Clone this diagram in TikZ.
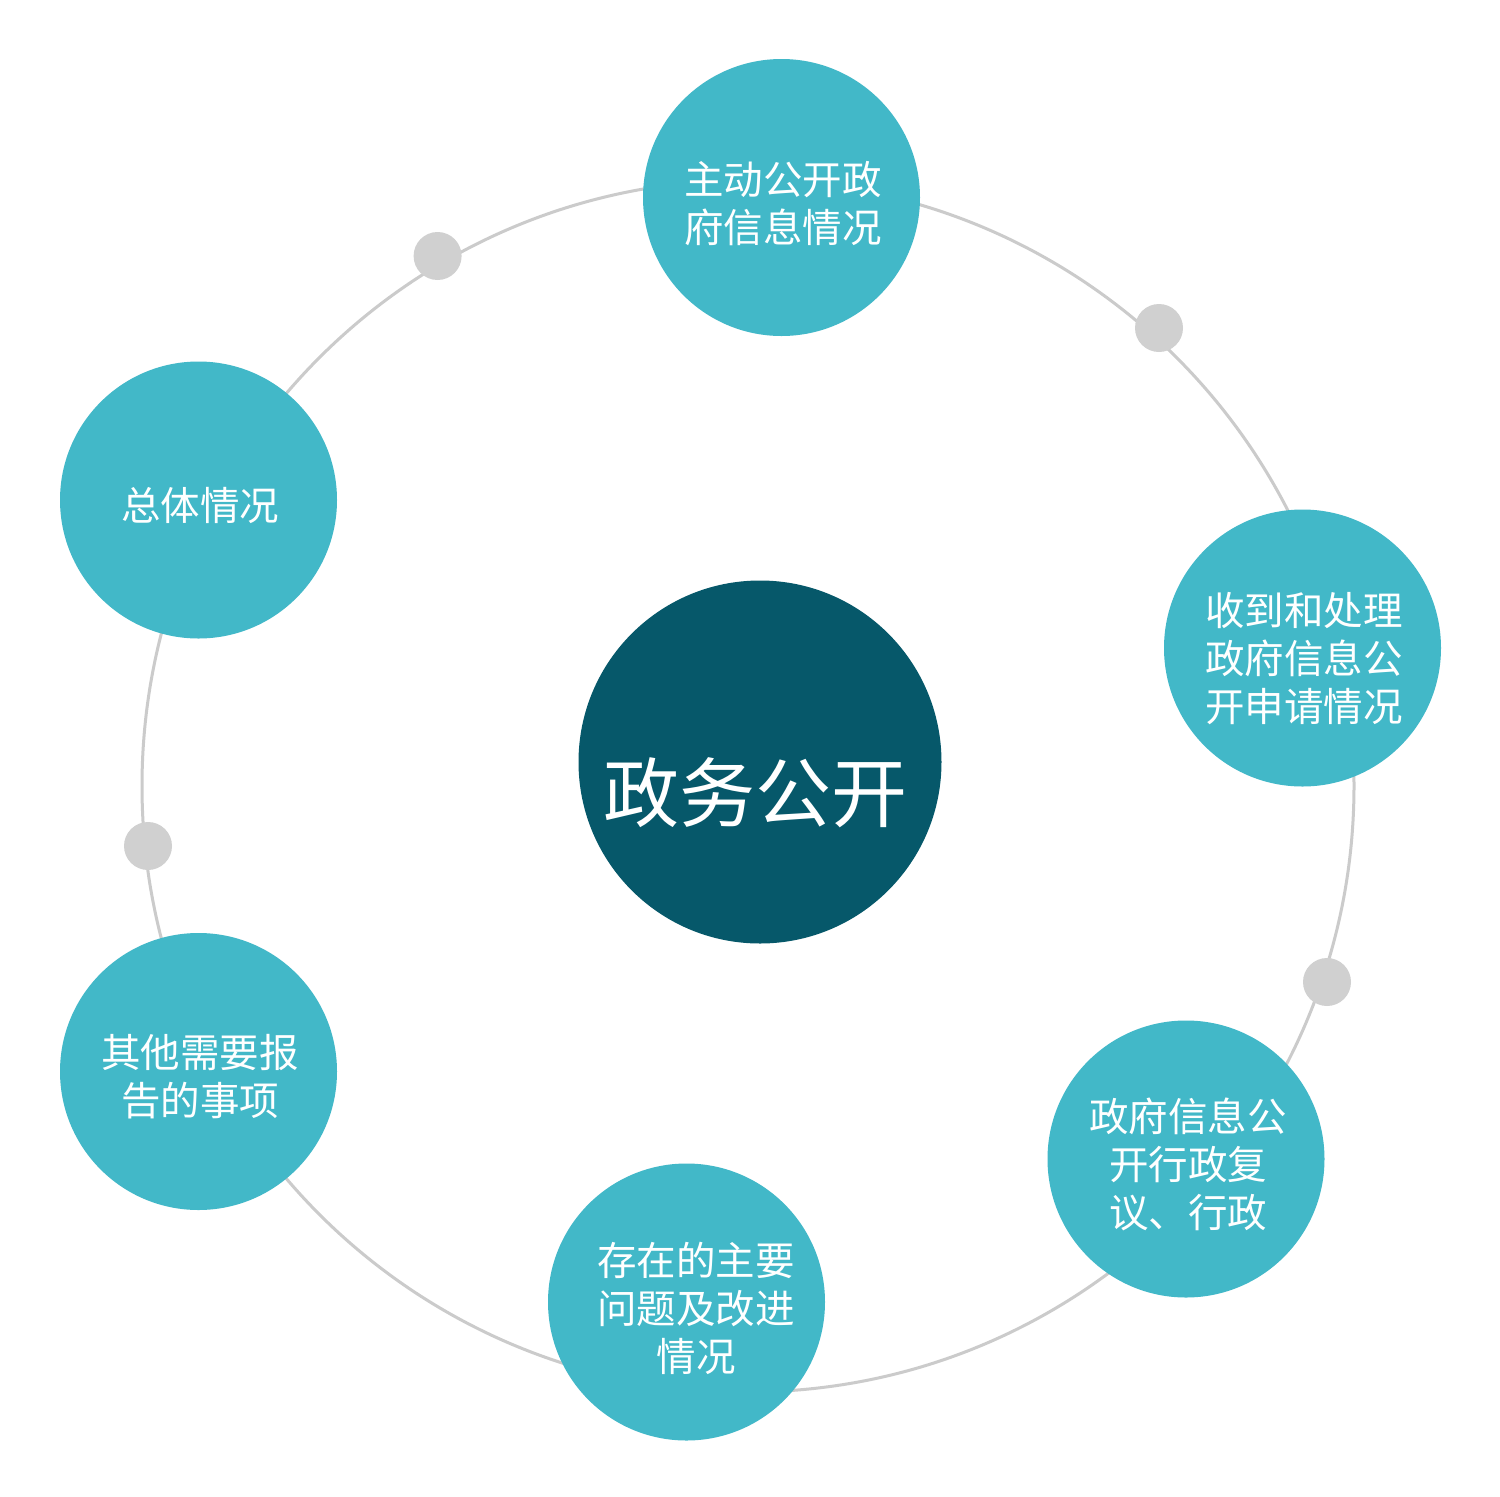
\documentclass[tikz,border=0pt]{standalone}
\usepackage{fontspec}
\newfontfamily\cjk{Noto Sans CJK SC}
\definecolor{teal1}{HTML}{42B8C8}
\definecolor{deep}{HTML}{06586A}
\definecolor{ringgray}{HTML}{CBCBCB}
\definecolor{dotgray}{HTML}{D0D0D0}
\tikzset{
  item/.style={circle, fill=teal1, draw=none, minimum size=277pt, inner sep=0pt},
  hub/.style={circle, fill=deep, draw=none, minimum size=363pt, inner sep=0pt},
  itemtext/.style={text=white, font=\cjk\fontsize{39.5pt}{48pt}\selectfont, align=center, inner sep=0pt},
  hubtext/.style={text=white, font=\cjk\fontsize{76pt}{90pt}\selectfont, inner sep=0pt},
  joint/.style={circle, fill=dotgray, draw=none, minimum size=48pt, inner sep=0pt},
  ringline/.style={draw=ringgray, line width=3pt}
}
\begin{document}
\begin{tikzpicture}[x=1pt, y=-1pt]
\useasboundingbox (0,0) rectangle (1500,1497);
\fill[white] (0,0) rectangle (1500,1497);
% ring
\coordinate (rc) at (748,786);
\draw[ringline] (rc) circle[radius=606pt];
% joints
\node[joint] (j1) at (437.6,256) {};
\node[joint] (j2) at (1159,328) {};
\node[joint] (j3) at (148,846) {};
\node[joint] (j4) at (1327,982) {};
% hub
\node[hub] (hub) at (760,762) {};
\node[hubtext] (hubt) at (755,793) {政务公开};
% items
\node[item] (c1) at (781.5,197.5) {};
\node[itemtext] (t1) at (783,204) {主动公开政\\府信息情况};
\node[item] (c2) at (1302.5,648) {};
\node[itemtext] (t2) at (1304,659) {收到和处理\\政府信息公\\开申请情况};
\node[item] (c3) at (1186,1159) {};
\node[itemtext] (t3) at (1188,1164) {政府信息公\\开行政复\\议、行政};
\node[item] (c4) at (686.5,1302) {};
\node[itemtext] (t4) at (696,1308) {存在的主要\\问题及改进\\情况};
\node[item] (c5) at (198.5,1071.5) {};
\node[itemtext] (t5) at (200,1077) {其他需要报\\告的事项};
\node[item] (c6) at (198.5,500) {};
\node[itemtext] (t6) at (200,505) {总体情况};
\end{tikzpicture}
\end{document}
